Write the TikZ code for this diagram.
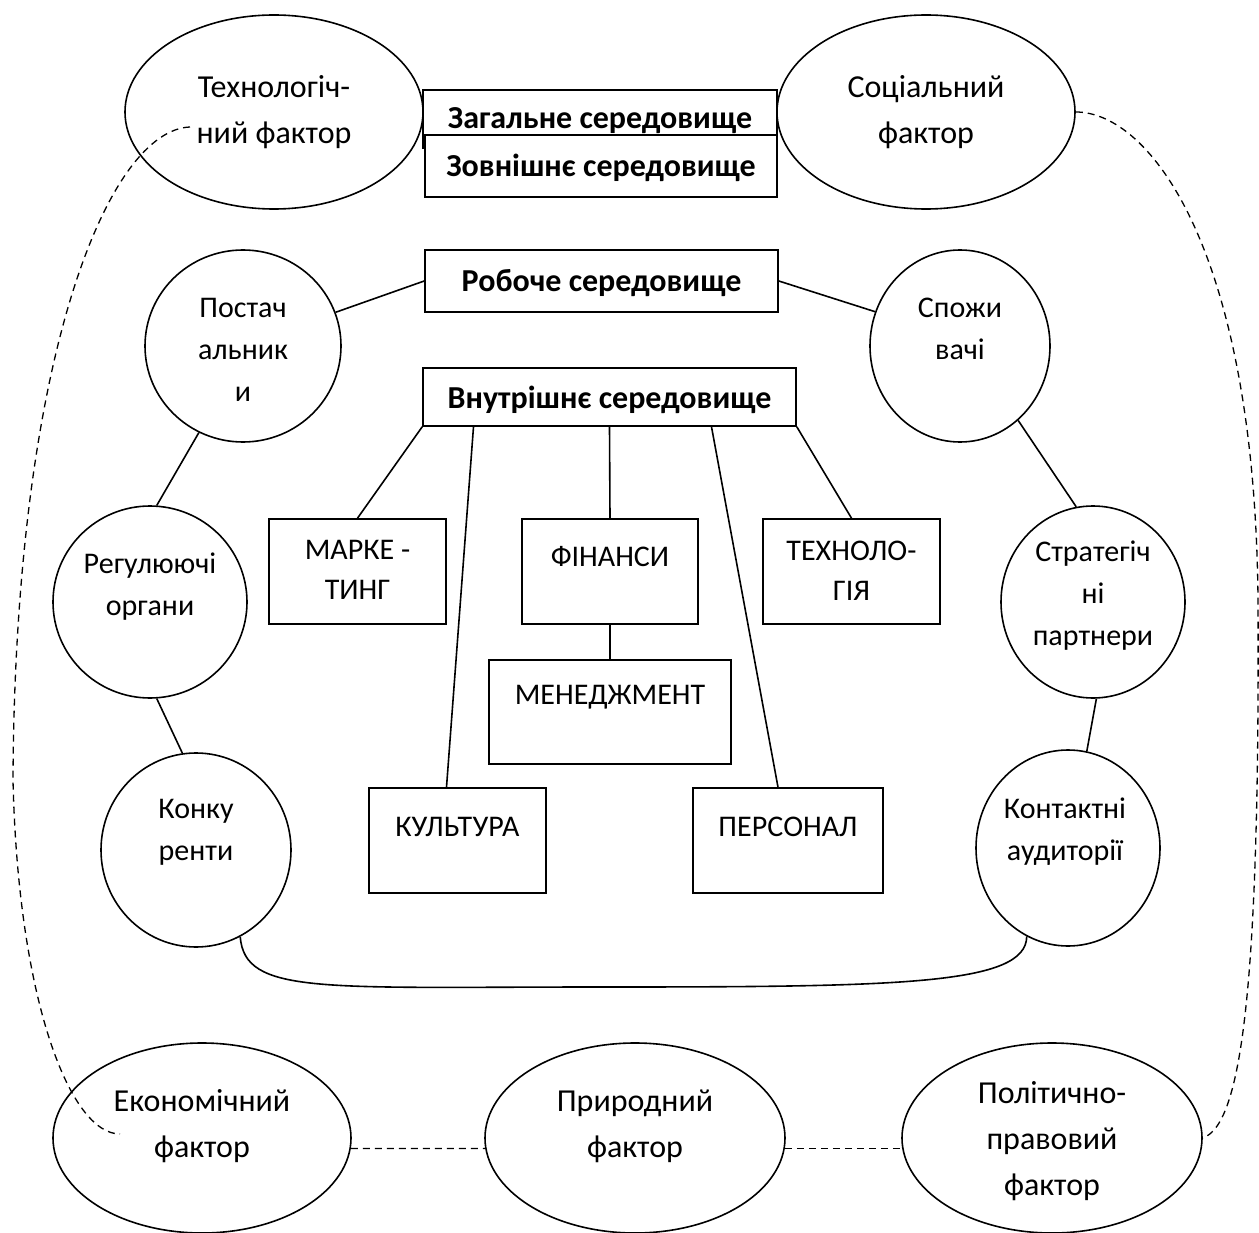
\documentclass[tikz,border=0pt]{standalone}
\usepackage{fontspec}
\setmainfont{Carlito}
\usetikzlibrary{shapes.geometric}

\begin{document}
\begin{tikzpicture}[x=1pt, y=-1pt, line width=1.6pt,
    fact/.style={draw, ellipse, inner sep=0pt},
    blok/.style={draw, rectangle, inner sep=0pt, fill=white},
    napys/.style={align=center, inner sep=0pt, font=\fontsize{32}{46}\selectfont},
    napysk/.style={align=center, inner sep=0pt, font=\fontsize{30}{42}\selectfont},
    napysb/.style={align=center, inner sep=0pt, font=\fontsize{30}{40}\selectfont},
    napysz/.style={align=center, inner sep=0pt, font=\fontsize{32}{40}\selectfont\bfseries},
    shtrykh/.style={dashed, dash pattern=on 7pt off 5pt, line width=1.3pt}]

  \useasboundingbox (0,0) rectangle (1259,1233);

  % Загальне середовище: фактори
  \node[fact, minimum width=298, minimum height=194] (tech) at (274,112) {};
  \node[fact, minimum width=298, minimum height=194] (soc) at (926,112) {};
  \node[fact, minimum width=298, minimum height=190] (eco) at (202,1138) {};
  \node[fact, minimum width=300, minimum height=190] (prir) at (635,1138) {};
  \node[fact, minimum width=300, minimum height=190] (pol) at (1052,1138) {};

  \node[napys] (tech-t) at (274,112) {Технологіч-\\ний фактор};
  \node[napys] (soc-t) at (926,112) {Соціальний\\фактор};
  \node[napys] (eco-t) at (202,1126) {Економічний\\фактор};
  \node[napys] (prir-t) at (635,1126) {Природний\\фактор};
  \node[napys] (pol-t) at (1052,1141) {Політично-\\правовий\\фактор};

  \node[blok, minimum width=354, minimum height=58] (zag) at (600,119) {};
  \node[blok, minimum width=352, minimum height=62] (zovn) at (601,166) {};
  \node[napysz] (zag-t) at (600,121) {Загальне середовище};
  \node[napysz] (zovn-t) at (601,168) {Зовнішнє середовище};

  % Робоче середовище
  \node[blok, minimum width=353, minimum height=62] (rob) at (601.5,281) {};
  \node[napysz] (rob-t) at (601.5,283) {Робоче середовище};

  \node[fact, minimum width=196, minimum height=192] (post) at (243,346) {};
  \node[fact, minimum width=194, minimum height=192] (regul) at (150,602) {};
  \node[fact, minimum width=190, minimum height=194] (konk) at (196,850) {};
  \node[fact, minimum width=180, minimum height=192] (spozh) at (960,346) {};
  \node[fact, minimum width=184, minimum height=192] (strat) at (1093,602) {};
  \node[fact, minimum width=184, minimum height=196] (kont) at (1068,848) {};

  \node[napysk] (post-t) at (243,350) {Постач\\альник\\и};
  \node[napysk] (regul-t) at (150,587) {Регулюючі\\органи};
  \node[napysk] (konk-t) at (196,832) {Конку\\ренти};
  \node[napysk] (spozh-t) at (960,329) {Спожи\\вачі};
  \node[napysk] (strat-t) at (1093,596) {Стратегіч\\ні\\партнери};
  \node[napysk] (kont-t) at (1065,832) {Контактні\\аудиторії};

  % Внутрішнє середовище
  \node[blok, minimum width=373, minimum height=58] (vnutr) at (609.5,397) {};
  \node[napysz] (vnutr-t) at (609.5,400) {Внутрішнє середовище};

  \node[blok, minimum width=177, minimum height=105] (mark) at (357.5,571.5) {};
  \node[blok, minimum width=176, minimum height=105] (fin) at (610,571.5) {};
  \node[blok, minimum width=177, minimum height=105] (techn) at (851.5,571.5) {};
  \node[blok, minimum width=242, minimum height=104] (men) at (610,712) {};
  \node[blok, minimum width=177, minimum height=105] (cult) at (457.5,840.5) {};
  \node[blok, minimum width=190, minimum height=105] (pers) at (788,840.5) {};

  \node[napysb] (mark-t) at (357.5,570) {МАРКЕ -\\ТИНГ};
  \node[napysb] (fin-t) at (610,557) {ФІНАНСИ};
  \node[napysb] (techn-t) at (851.5,571) {ТЕХНОЛО-\\ГІЯ};
  \node[napysb] (men-t) at (610,697) {МЕНЕДЖМЕНТ};
  \node[napysb] (cult-t) at (457.5,827) {КУЛЬТУРА};
  \node[napysb] (pers-t) at (788,827) {ПЕРСОНАЛ};

  % Зв'язки
  \draw (post.20) -- (rob.west);
  \draw (rob.east) -- (spozh.158);
  \draw (post.-117) -- (regul.86);
  \draw (regul.-86) -- (konk.98);
  \draw (spozh.-52) -- (strat.100);
  \draw (strat.-88) -- (kont.79);

  \draw (vnutr.south west) -- (mark.north);
  \draw ([xshift=-136]vnutr.south) -- ([xshift=-11]cult.north);
  \draw (vnutr.south) -- (fin.north);
  \draw ([xshift=102]vnutr.south) -- ([xshift=-10]pers.north);
  \draw (vnutr.south east) -- (techn.north);
  \draw (fin.south) -- (men.north);

  \coordinate (niz) at (600,987);
  \draw (konk.-63) .. controls (245,995) and (320,987) .. (niz)
        .. controls (900,987) and (1026,985) .. (kont.-115);

  % Пунктир
  \coordinate (lpoch) at (190,127);
  \coordinate (lkin) at (120,1134);
  \draw[shtrykh] (lpoch) .. controls (110,130) and (15,350) .. (13,780)
        .. controls (18,1000) and (70,1134) .. (lkin);
  \draw[shtrykh] (soc.east) .. controls (1150,112) and (1255,250) .. (1258,600)
        .. controls (1260,1000) and (1240,1125) .. (pol.east);
  \draw[shtrykh] (eco.-4) -- (prir.184);
  \draw[shtrykh] (prir.-4) -- (pol.184);

\end{tikzpicture}
\end{document}
